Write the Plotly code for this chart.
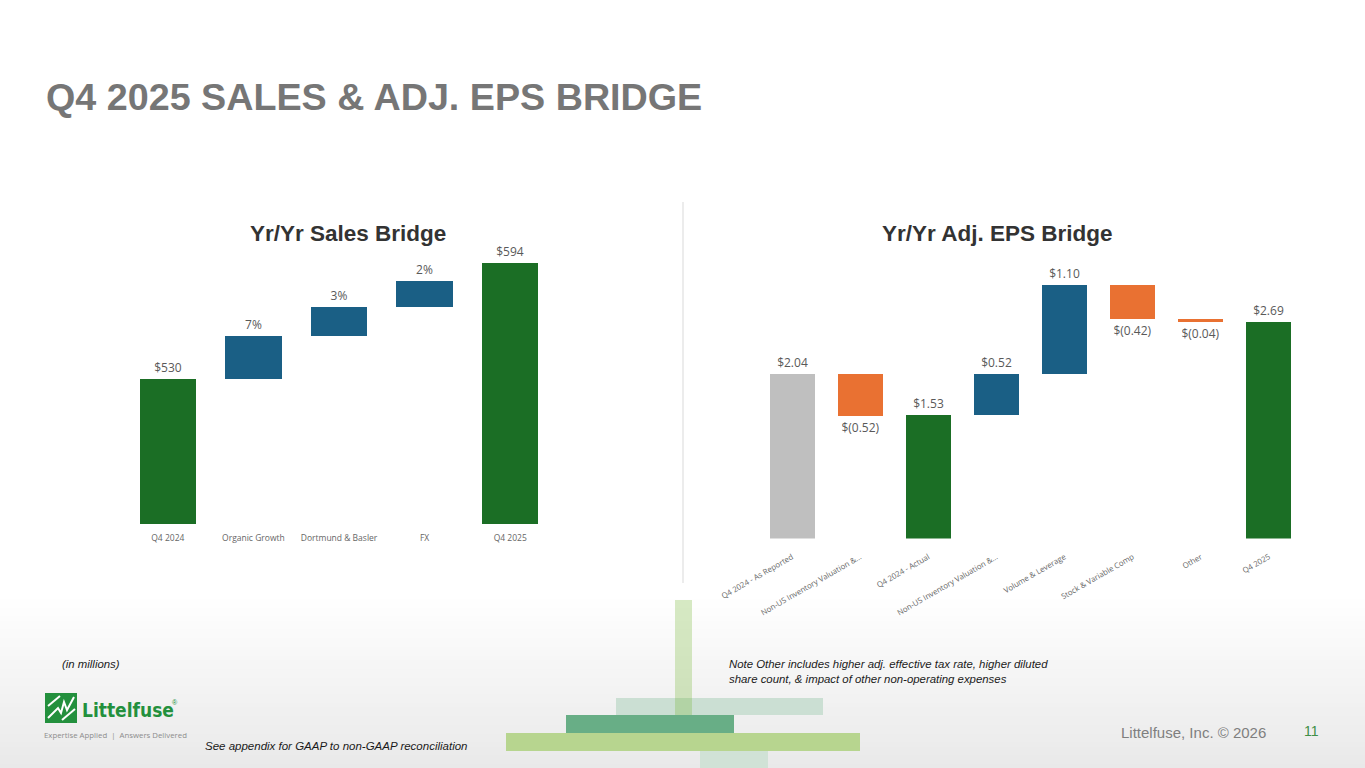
import plotly.graph_objects as go

W, H = 1365, 768

# ---------------- data ----------------
sales_categories = ["Q4 2024", "Organic Growth", "Dortmund & Basler", "FX", "Q4 2025"]
sales_base = [0, 530, 553.7, 569.7, 0]
sales_height = [530, 23.7, 16.0, 14.4, 594]
sales_labels = ["$530", "7%", "3%", "2%", "$594"]
sales_kind = ["total", "step", "step", "step", "total"]

eps_categories = ["Q4 2024 - As Reported", "Non-US Inventory Valuation &...", "Q4 2024 - Actual",
                  "Non-US Inventory Valuation &...", "Volume & Leverage", "Stock & Variable Comp",
                  "Other", "Q4 2025"]
eps_values = [2.04, -0.52, 1.53, 0.52, 1.10, -0.42, -0.04, 2.69]
eps_kind = ["reported", "delta", "total", "delta", "delta", "delta", "delta", "total"]

GREEN = "#1B6E25"
BLUE = "#1A5F85"
ORANGE = "#E97132"
GRAY = "#BFBFBF"
LABEL = "#595959"


def px_x(x):
    return x / W


def px_y(y):
    return 1 - y / H


# waterfall bases for EPS
eps_base = []
running = 0.0
for v, k in zip(eps_values, eps_kind):
    if k == "delta":
        eps_base.append(running)
        running += v
    else:
        eps_base.append(0)
        running = v
eps_colors = [GRAY if k == "reported" else GREEN if k == "total" else (BLUE if v > 0 else ORANGE)
              for v, k in zip(eps_values, eps_kind)]


def fmt(v):
    return "$%.2f" % v if v >= 0 else "$(%.2f)" % abs(v)


eps_labels = [fmt(v) for v in eps_values]
sales_colors = [GREEN if k == "total" else BLUE for k in sales_kind]

fig = go.Figure()

fig.add_trace(go.Bar(
    x=list(range(len(sales_categories))), y=sales_height, base=sales_base,
    marker=dict(color=sales_colors, line=dict(width=0)), width=0.66,
    text=sales_labels, textposition="outside", constraintext="none", cliponaxis=False,
    textfont=dict(family="Open Sans", size=12, color=LABEL),
    xaxis="x", yaxis="y", hoverinfo="skip", showlegend=False))

fig.add_trace(go.Bar(
    x=list(range(len(eps_categories))), y=eps_values, base=eps_base,
    marker=dict(color=eps_colors, line=dict(width=0)), width=0.66,
    text=eps_labels, textposition="outside", constraintext="none", cliponaxis=False,
    textfont=dict(family="Open Sans", size=12, color=LABEL),
    xaxis="x2", yaxis="y2", hoverinfo="skip", showlegend=False))

shapes = []
# background gradient at the bottom
n = 40
y0, y1 = 595, 768
for i in range(n):
    t = (i + 0.5) / n
    c = int(round(255 - t * (255 - 233)))
    shapes.append(dict(type="rect", xref="paper", yref="paper", layer="below",
                       x0=0, x1=1, y0=px_y(y0 + (y1 - y0) * (i + 1) / n) - 0.001,
                       y1=px_y(y0 + (y1 - y0) * i / n),
                       fillcolor="rgb(%d,%d,%d)" % (c, c, c), line=dict(width=0)))

# divider
shapes.append(dict(type="line", xref="paper", yref="paper", x0=px_x(683), x1=px_x(683),
                   y0=px_y(583), y1=px_y(202), line=dict(color="#D9D9D9", width=1)))


def rect(x0, x1, ya, yb, color):
    return dict(type="rect", xref="paper", yref="paper", x0=px_x(x0), x1=px_x(x1),
                y0=px_y(yb), y1=px_y(ya), fillcolor=color, line=dict(width=0))


# decorative blocks
shapes.append(rect(616, 823, 698, 715, "#CBDFD3"))
shapes.append(rect(566, 734, 715, 733, "#68AE86"))
shapes.append(rect(506, 860, 733, 751, "#B7D58F"))
shapes.append(rect(700, 768, 751, 768, "#D0E2D6"))
shapes.append(rect(675, 692, 600, 715, "rgba(122,184,60,0.30)"))

# logo mark
shapes.append(rect(45, 77, 693, 723, "#23903D"))


def path(points):
    s = "M %f,%f" % (px_x(points[0][0]), px_y(points[0][1]))
    for p in points[1:]:
        s += " L %f,%f" % (px_x(p[0]), px_y(p[1]))
    return s


shapes.append(dict(type="path", xref="paper", yref="paper",
                   path=path([(48, 718), (58, 708), (61, 713), (64, 702), (67, 710), (74, 697)]),
                   line=dict(color="white", width=2)))
shapes.append(dict(type="path", xref="paper", yref="paper",
                   path=path([(48, 706), (60, 696)]), line=dict(color="white", width=2)))
shapes.append(dict(type="path", xref="paper", yref="paper",
                   path=path([(62, 720), (75, 709)]), line=dict(color="white", width=2)))

annotations = []


def note(text, x, y, size, color, family="Liberation Sans", xanchor="left", yanchor="middle"):
    annotations.append(dict(text=text, x=px_x(x), y=px_y(y), xref="paper", yref="paper",
                            showarrow=False, xanchor=xanchor, yanchor=yanchor,
                            font=dict(family=family, size=size, color=color)))


note("<b>Q4 2025 SALES &amp; ADJ. EPS BRIDGE</b>", 44, 97, 37.7, "#767676")
note("<b>Yr/Yr Sales Bridge</b>", 348, 233, 22.5, "#333333", xanchor="center")
note("<b>Yr/Yr Adj. EPS Bridge</b>", 997, 233, 22.5, "#333333", xanchor="center")
note("<i>(in millions)</i>", 60, 664, 11.4, "#1A1A1A")
note("<i>See appendix for GAAP to non-GAAP reconciliation</i>", 203, 746, 11.5, "#1A1A1A")
note("<i>Note Other includes higher adj. effective tax rate, higher diluted</i>", 727, 664, 11.4, "#1A1A1A")
note("<i>share count, &amp; impact of other non-operating expenses</i>", 727, 679, 11.4, "#1A1A1A")
note("Littelfuse, Inc. © 2026", 1119, 732, 15, "#7F7F7F")
note("11", 1302, 731, 14, "#3F8F47")
note("<b>Littelfuse</b>", 80, 710, 19, "#23903D", family="DejaVu Sans Condensed, DejaVu Sans")
note("®", 170, 702, 7, "#23903D")
note("Expertise Applied  |  Answers Delivered", 42, 735, 7.8, "#8C8C8C", family="Open Sans")

fig.update_layout(
    width=W, height=H, margin=dict(l=0, r=0, t=0, b=0, pad=0, autoexpand=False),
    paper_bgcolor="white", plot_bgcolor="rgba(0,0,0,0)",
    shapes=shapes, annotations=annotations, bargap=0,
    xaxis=dict(domain=[px_x(125), px_x(553)], range=[-0.5, 4.5], automargin=False,
               tickvals=list(range(len(sales_categories))), ticktext=sales_categories,
               showgrid=False, zeroline=False, showline=False,
               ticks="outside", ticklen=6, tickcolor="rgba(0,0,0,0)",
               tickfont=dict(family="Open Sans", size=8.5, color="#666666"), fixedrange=True),
    yaxis=dict(domain=[px_y(524), px_y(250)], range=[450, 601.2], visible=False,
               automargin=False, fixedrange=True),
    xaxis2=dict(domain=[px_x(758), px_x(1303)], range=[-0.5, 7.5], anchor="y2", automargin=False,
                tickvals=list(range(len(eps_categories))), ticktext=eps_categories,
                tickangle=-30, showgrid=False, zeroline=False, showline=False,
                ticks="outside", ticklen=10, tickcolor="rgba(0,0,0,0)",
                tickfont=dict(family="Open Sans", size=7.8, color="#666666"), fixedrange=True),
    yaxis2=dict(domain=[px_y(538.5), px_y(250)], range=[0, 3.588], anchor="x2",
                visible=False, automargin=False, fixedrange=True),
)

fig.write_html("out.html")
